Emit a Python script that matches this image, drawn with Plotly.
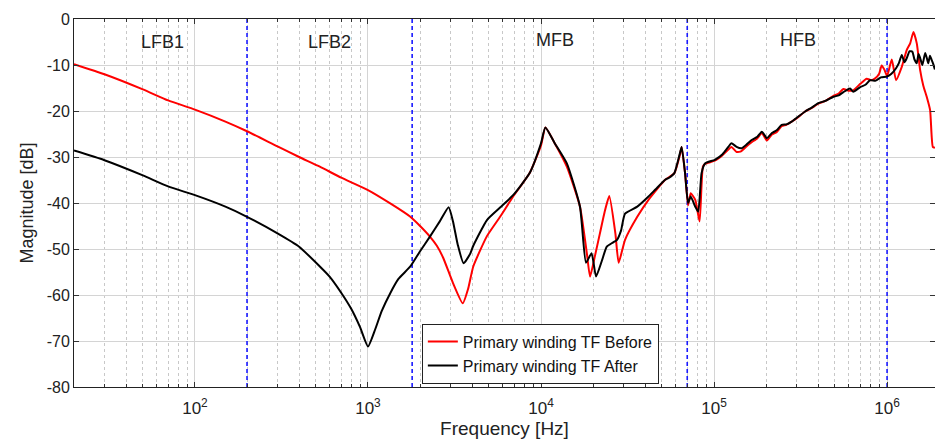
import math
import plotly.graph_objects as go

# ---------------- data ----------------
f_before = [20, 30, 50, 70, 100, 150, 200, 300, 400, 527, 700, 1000, 1345, 1757, 2000, 2280, 2500, 2720,
            3100, 3530, 3800, 4060, 4870, 5800, 6900, 8600, 10000, 10600, 12000, 14100, 16800,
            18400, 19200, 20500, 21900, 23300, 24800, 26900, 28100, 30600, 36000, 41800, 52000,
            59000, 63500, 65000, 68000, 70800, 73300, 77900, 82500, 86200, 88700, 101000, 112000,
            121000, 126000, 135000, 144000, 155000, 165000, 178000, 189000, 202000, 216000, 230000,
            246000, 262000, 281000, 305000, 336000, 365000, 401000, 440000, 490000, 525000, 559000,
            600000, 638000, 700000, 763000, 810000, 853000, 900000, 931000, 965000, 1000000,
            1065000, 1127000, 1216000, 1300000, 1360000, 1420000, 1485000, 1553000, 1620000,
            1695000, 1773000, 1838000, 1890000]
db_before = [-9.8, -12.0, -15.3, -17.7, -19.7, -22.3, -24.4, -27.7, -30.0, -32.1, -34.5, -37.2,
             -40.1, -43.0, -45.0, -47.3, -49.3, -51.9, -57.4, -61.8, -58.5, -53.8, -47.2, -43.0,
             -38.6, -33.5, -27.5, -23.6, -27.0, -32.1, -40.8, -50.9, -56.0, -51.5, -46.6, -42.0,
             -38.5, -46.6, -53.0, -48.0, -43.0, -39.3, -35.0, -33.5, -29.5, -27.8, -33.5, -40.5,
             -37.9, -39.3, -44.0, -32.1, -31.5, -30.8, -29.6, -28.4, -27.8, -28.9, -28.7, -27.6,
             -26.8, -25.9, -24.8, -26.4, -25.1, -24.6, -23.3, -23.0, -22.3, -21.4, -20.1, -19.4,
             -18.4, -17.8, -16.7, -16.2, -15.2, -15.6, -15.5, -14.1, -13.0, -13.3, -12.9, -11.9,
             -10.1, -11.0, -12.4, -8.8, -13.3, -10.4, -6.7, -5.3, -2.8, -5.3, -11.1, -14.5, -16.9,
             -19.8, -27.8, -28.0]

f_after = [20, 30, 50, 70, 100, 150, 200, 300, 400, 527, 600, 700, 800, 900, 1000, 1100, 1200,
           1345, 1500, 1757, 2000, 2280, 2600, 2925, 3100, 3300, 3570, 3900, 4060, 4870, 5800,
           6900, 8600, 10000, 10600, 12000, 14100, 16800, 18200, 19600, 20800, 22500, 24000, 26000,
           27500, 29000, 30600, 36000, 41800, 46000, 52000, 55000, 59000, 63500, 65000, 68000,
           70800, 73300, 77900, 81000, 84700, 88700, 101000, 112000, 121000, 126000, 135000,
           144000, 155000, 165000, 178000, 189000, 202000, 216000, 230000, 246000, 262000, 281000,
           305000, 336000, 365000, 401000, 440000, 490000, 525000, 559000, 611000, 638000, 700000,
           750000, 798000, 860000, 920000, 1000000, 1060000, 1127000, 1170000, 1216000, 1260000,
           1300000, 1350000, 1400000, 1440000, 1485000, 1520000, 1553000, 1600000, 1660000,
           1700000, 1730000, 1770000, 1810000, 1850000, 1890000]
db_after = [-28.6, -30.7, -34.0, -36.4, -38.3, -40.8, -43.0, -46.6, -49.5, -53.8, -56.0, -59.5,
            -63.0, -67.0, -71.2, -67.5, -63.5, -59.6, -56.5, -53.8, -50.5, -47.3, -44.0, -40.9,
            -44.0, -49.0, -53.1, -51.0, -49.3, -43.7, -41.0, -38.3, -33.5, -27.0, -23.6, -27.0,
            -31.4, -40.8, -53.0, -50.9, -56.0, -52.5, -49.5, -48.6, -48.0, -46.0, -42.3, -40.8,
            -38.6, -37.0, -35.0, -34.5, -33.5, -29.2, -27.8, -33.5, -40.0, -38.6, -40.8, -41.9,
            -33.5, -31.4, -30.6, -29.4, -27.8, -27.0, -27.8, -28.1, -27.2, -26.3, -25.6, -24.5,
            -25.9, -24.8, -24.2, -23.0, -22.9, -22.3, -21.3, -20.1, -19.3, -18.3, -17.8, -16.9,
            -16.6, -15.9, -15.1, -15.8, -14.8, -14.3, -13.3, -13.4, -12.7, -12.5, -11.9, -10.7,
            -9.6, -7.8, -9.4, -8.5, -7.0, -7.1, -8.8, -9.6, -7.6, -8.5, -10.0, -7.4, -8.6, -9.6,
            -8.0, -8.9, -9.8, -11.0]

band_edges = [200, 1800, 70000, 1000000]
band_names = ["LFB1", "LFB2", "MFB", "HFB"]
band_label_f = [65, 600, 12000, 306000]
band_label_db = [-5, -5, -4.5, -4.5]

x_tick_vals = [1e2, 1e3, 1e4, 1e5, 1e6]
x_tick_text = ["10<sup>2</sup>", "10<sup>3</sup>", "10<sup>4</sup>", "10<sup>5</sup>", "10<sup>6</sup>"]
y_tick_vals = [0, -10, -20, -30, -40, -50, -60, -70, -80]
y_tick_text = ["0", "-10", "-20", "-30", "-40", "-50", "-60", "-70", "-80"]

FONT = "Liberation Sans, Arial, sans-serif"

fig = go.Figure()

# band boundary dashed lines
for fe in band_edges:
    fig.add_trace(go.Scatter(x=[fe, fe], y=[-80, 0], mode="lines",
                             line=dict(color="#1a1aff", width=1.6, dash="4px,3px"),
                             showlegend=False, hoverinfo="skip"))

fig.add_trace(go.Scatter(x=f_before, y=db_before, mode="lines",
                         name="Primary winding TF Before",
                         line=dict(color="#ff0000", width=2, shape="spline", smoothing=0.5)))
fig.add_trace(go.Scatter(x=f_after, y=db_after, mode="lines",
                         name="Primary winding TF After",
                         line=dict(color="#000000", width=2, shape="spline", smoothing=0.5)))

for name, fx, fy in zip(band_names, band_label_f, band_label_db):
    fig.add_annotation(x=math.log10(fx), y=fy, text=name, showarrow=False,
                       font=dict(family=FONT, size=18, color="#222"))

minor_vals = [m * 10 ** d for d in range(1, 7) for m in range(2, 10)]

fig.update_xaxes(type="log", range=[math.log10(20), 6.277],
                 tickvals=x_tick_vals, ticktext=x_tick_text,
                 ticks="inside", ticklen=5, tickcolor="#333", mirror="allticks",
                 showline=True, linecolor="#222", linewidth=1,
                 showgrid=True, gridcolor="#d4d4d4", gridwidth=1,
                 minor=dict(tickvals=minor_vals, ticks="inside", ticklen=3, tickcolor="#333",
                            showgrid=True, gridcolor="#c8c8c8", griddash="dot", gridwidth=1),
                 tickfont=dict(family=FONT, size=17, color="#222"),
                 ticklabelstandoff=6,
                 title=dict(text="Frequency [Hz]", font=dict(family=FONT, size=19, color="#222"),
                            standoff=0),
                 zeroline=False)
fig.update_yaxes(range=[-80, 0], tickvals=y_tick_vals, ticktext=y_tick_text,
                 ticks="inside", ticklen=5, tickcolor="#333", mirror="allticks",
                 showline=True, linecolor="#222", linewidth=1,
                 showgrid=True, gridcolor="#d4d4d4", gridwidth=1,
                 tickfont=dict(family=FONT, size=16, color="#222"),
                 title=dict(text="Magnitude [dB]", font=dict(family=FONT, size=18, color="#222"),
                            standoff=8),
                 zeroline=False)

fig.update_layout(width=935, height=446,
                  margin=dict(l=74, r=0, t=19, b=59),
                  plot_bgcolor="white", paper_bgcolor="white",
                  legend=dict(x=0.404, y=0.172, xanchor="left", yanchor="top",
                              bgcolor="white", bordercolor="#222", borderwidth=1,
                              font=dict(family=FONT, size=16, color="#111"),
                              tracegroupgap=0, itemwidth=30))

fig.write_html("out.html")
